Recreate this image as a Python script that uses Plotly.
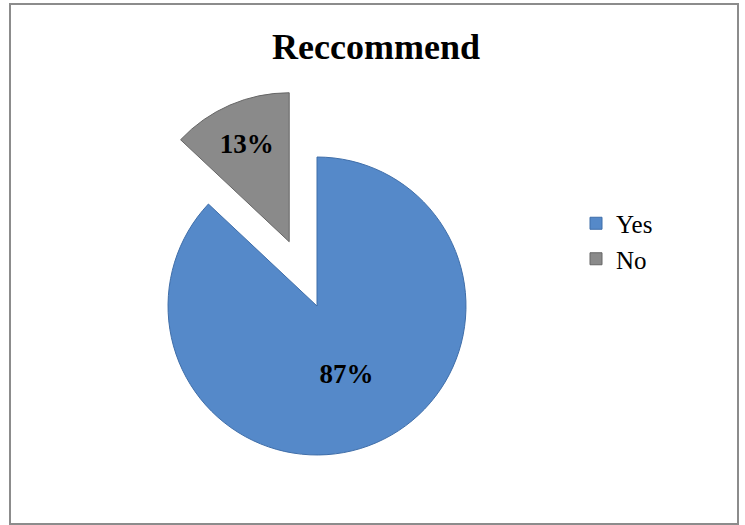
import plotly.graph_objects as go

labels = ["Yes", "No"]
values = [87, 13]
colors = ["#5589c9", "#8a8a8a"]
edge_colors = ["#3f6ea9", "#666666"]
pull = [0, 0.47]

W, H = 745, 525
FONT = "Liberation Serif, Times New Roman, serif"

fig = go.Figure(
    go.Pie(
        labels=labels,
        values=values,
        sort=False,
        direction="clockwise",
        rotation=0,
        pull=pull,
        marker=dict(colors=colors, line=dict(color=edge_colors, width=1)),
        texttemplate="%{percent:.0%}",
        textposition="inside",
        insidetextorientation="horizontal",
        textfont=dict(family=FONT, size=27, color="black", weight="bold"),
        domain=dict(x=[98 / W, 536 / W], y=[0, 438 / H]),
        hoverinfo="label+percent",
    )
)

fig.update_layout(
    width=W,
    height=H,
    margin=dict(l=0, r=0, t=0, b=0),
    paper_bgcolor="white",
    plot_bgcolor="white",
    title=dict(
        text="Reccommend",
        font=dict(family=FONT, size=36, color="black", weight="bold"),
        x=376 / W,
        xanchor="center",
        xref="container",
        y=1 - 46 / H,
        yanchor="middle",
        yref="container",
    ),
    legend=dict(
        x=576 / W,
        xanchor="left",
        y=1 - 241 / H,
        yanchor="middle",
        font=dict(family=FONT, size=25, color="black"),
        bgcolor="rgba(0,0,0,0)",
    ),
    shapes=[
        dict(
            type="rect",
            xref="paper",
            yref="paper",
            x0=10 / W,
            x1=738 / W,
            y0=1 - 524 / H,
            y1=1 - 4 / H,
            line=dict(color="#8c8c8c", width=2),
            fillcolor="rgba(0,0,0,0)",
            layer="below",
        )
    ],
)

fig.write_html(
    "out.html",
    config={"displayModeBar": False},
    post_script="document.body.style.margin='0px';document.body.style.overflow='hidden';",
)
